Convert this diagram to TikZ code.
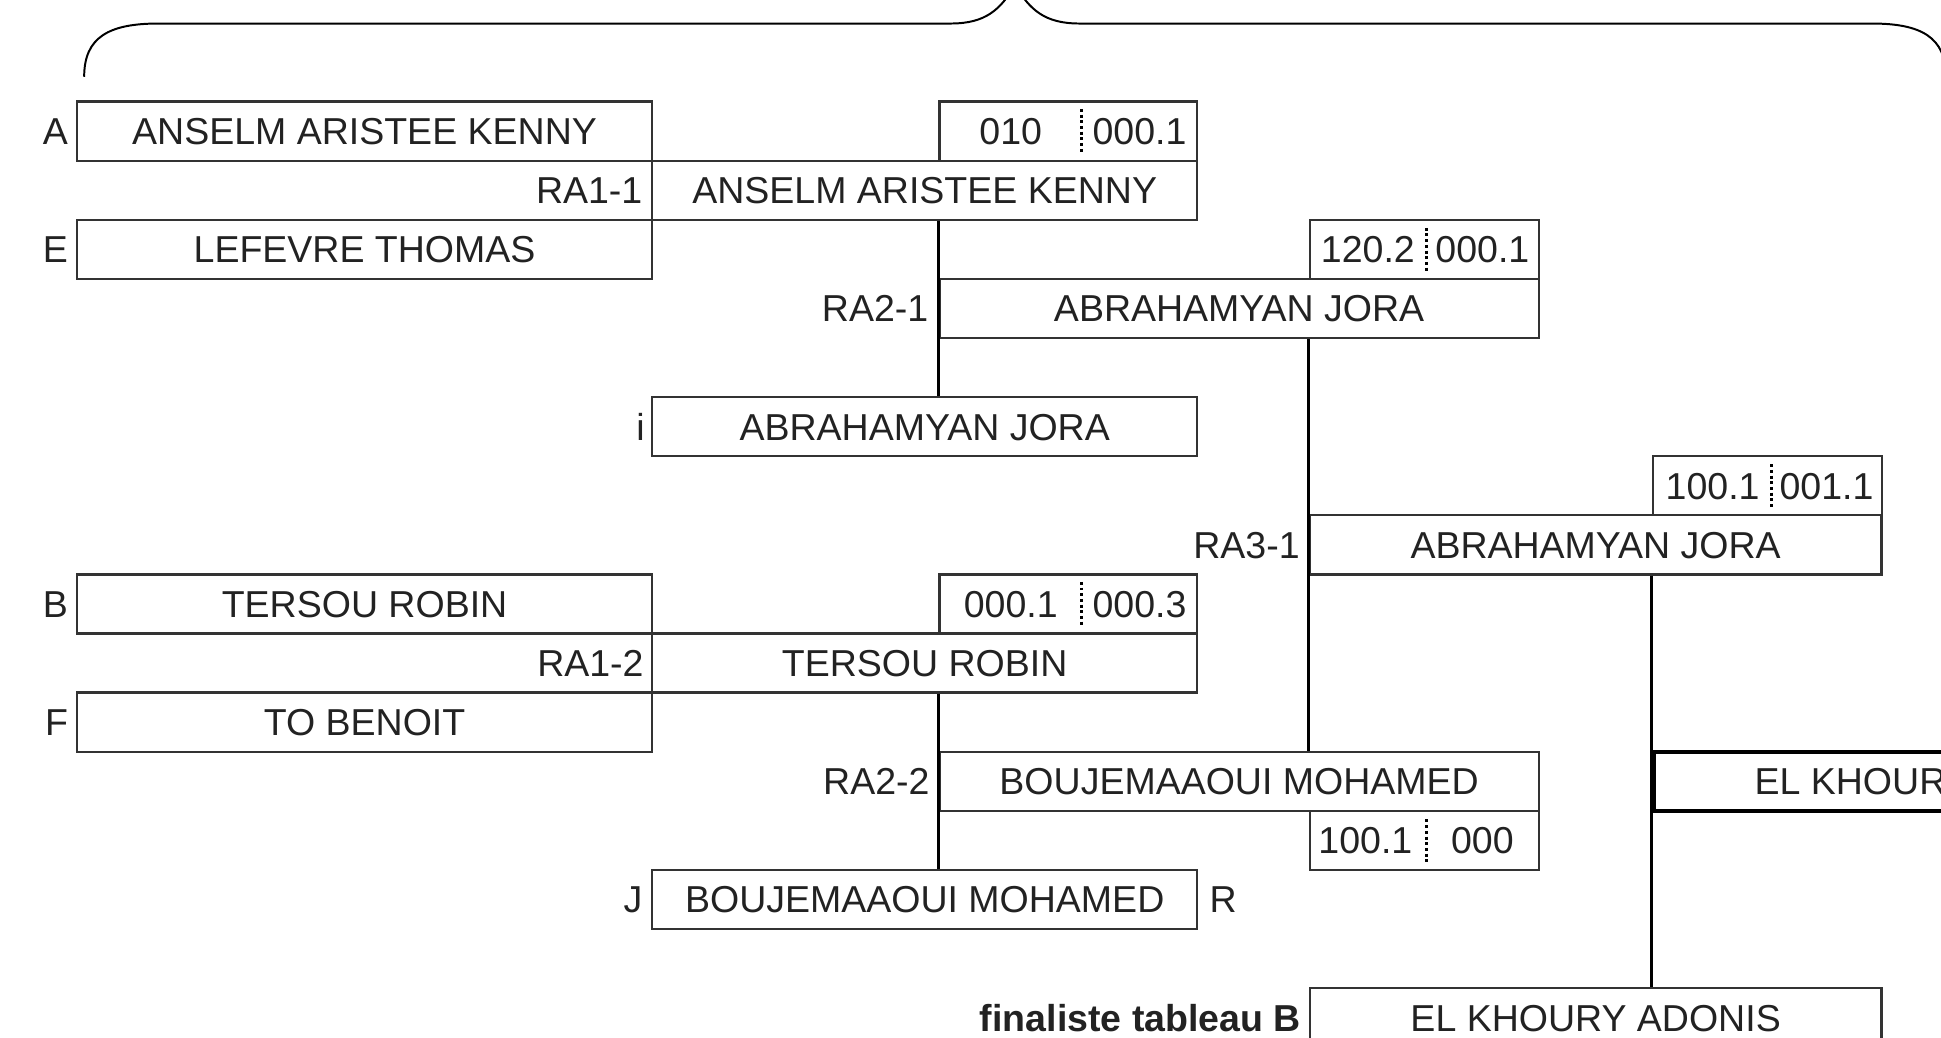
\documentclass[tikz,border=0pt]{standalone}
\usepackage{fontspec}
\setmainfont{Liberation Sans}
\usetikzlibrary{calc}
\definecolor{boxc}{HTML}{333333}
\definecolor{txt}{HTML}{222222}
\begin{document}
\begin{tikzpicture}[x=1pt,y=-1pt,
  every node/.style={font=\fontsize{30.3}{36}\selectfont, text=txt, inner sep=0pt, text height=21.7pt, text depth=0pt},
  pbox/.style={draw=boxc, line width=1.8pt, minimum height=47.75pt},
  wleft/.style={pbox, minimum width=465pt},
  wmid/.style={pbox, minimum width=440pt},
  wr2/.style={pbox, minimum width=484pt},
  wr3/.style={pbox, minimum width=462pt},
  sc1/.style={pbox, minimum width=208pt},
  sc2/.style={pbox, minimum width=185pt},
  lab/.style={anchor=east},
  divider/.style={draw=black, line width=2.4pt, dash pattern=on 2.4pt off 2.2pt},
  conn/.style={draw=black, line width=2.2pt},
  brace/.style={draw=black, line width=1.6pt}]
\useasboundingbox (0,0) rectangle (1568,838);
\clip (0,0) rectangle (1568,838);

% brace
\draw[brace] (68,62) .. controls (68,30) and (88,19) .. (128,19) -- (768,19)
  .. controls (796,19) and (808,8) .. (820,-12)
  .. controls (832,8) and (844,19) .. (872,19) -- (1512,19)
  .. controls (1552,19) and (1572,30) .. (1572,62);

% first round, top half
\node[wleft] (A) at (294.5,105.875) {ANSELM ARISTEE KENNY};
\node[lab] (lA) at ($(A.west)+(-6,0)$) {A};
\node[wmid] (ra11) at (747,153.625) {ANSELM ARISTEE KENNY};
\node[lab] (lra11) at ($(ra11.west)+(-7,0)$) {RA1-1};
\node[wleft] (E) at (294.5,201.375) {LEFEVRE THOMAS};
\node[lab] (lE) at ($(E.west)+(-6,0)$) {E};
\node[sc1] (s1) at (863,105.875) {};
\node (s1a) at (816.5,105.875) {010};
\node (s1b) at (920.5,105.875) {000.1};
\draw[divider] (874,88) -- (874,124);

% second round, top
\node[wr2] (ra21) at (1001,249.125) {ABRAHAMYAN JORA};
\node[lab] (lra21) at ($(ra21.west)+(-8,0)$) {RA2-1};
\node[sc2] (s2) at (1150.5,201.375) {};
\node (s2a) at (1105,201.375) {120.2};
\node (s2b) at (1197.5,201.375) {000.1};
\draw[divider] (1152,184) -- (1152,219);
\node[wmid] (i) at (747,344.625) {ABRAHAMYAN JORA};
\node[lab] (li) at ($(i.west)+(-5,0)$) {i};

% third round
\node[sc2] (s3) at (1428,392.375) {};
\node (s3a) at (1383.5,392.375) {100.1};
\node (s3b) at (1475.5,392.375) {001.1};
\draw[divider] (1431,375) -- (1431,411);
\node[wr3] (ra31) at (1289,440.125) {ABRAHAMYAN JORA};
\node[lab] (lra31) at ($(ra31.west)+(-7,0)$) {RA3-1};

% first round, bottom half
\node[wleft] (B) at (294.5,487.875) {TERSOU ROBIN};
\node[lab] (lB) at ($(B.west)+(-6,0)$) {B};
\node[sc1] (s4) at (863,487.875) {};
\node (s4a) at (816.5,487.875) {000.1};
\node (s4b) at (920.5,487.875) {000.3};
\draw[divider] (874,470) -- (874,506);
\node[wmid] (ra12) at (747,535.625) {TERSOU ROBIN};
\node[lab] (lra12) at ($(ra12.west)+(-6,0)$) {RA1-2};
\node[wleft] (F) at (294.5,583.375) {TO BENOIT};
\node[lab] (lF) at ($(F.west)+(-6,0)$) {F};

% second round, bottom
\node[wr2] (ra22) at (1001,631.125) {BOUJEMAAOUI MOHAMED};
\node[lab] (lra22) at ($(ra22.west)+(-7,0)$) {RA2-2};
\node[sc2] (s5) at (1150.5,678.875) {};
\node (s5a) at (1103,678.875) {100.1};
\node (s5b) at (1197.5,678.875) {000};
\draw[divider] (1152,662) -- (1152,697);
\node[wmid] (J) at (747,726.625) {BOUJEMAAOUI MOHAMED};
\node[lab] (lJ) at ($(J.west)+(-7,0)$) {J};
\node[anchor=west] (lR) at ($(J.east)+(9,0)$) {R};

% right side
\node[pbox, draw=black, line width=3.2pt, minimum width=462pt] (elk) at (1567,631.125) {EL KHOURY ADONIS};
\node[wr3] (fin) at (1289,822.125) {EL KHOURY ADONIS};
\node[lab, font=\fontsize{30.3}{36}\selectfont\bfseries] (lfin) at ($(fin.west)+(-6,0)$) {finaliste tableau B};

% connectors
\draw[conn] (ra21.west |- ra11.south) -- (ra21.west |- i.north);
\draw[conn] (ra22.west |- ra12.south) -- (ra22.west |- J.north);
\draw[conn] (ra31.west |- ra21.south) -- (ra31.west |- ra22.north);
\draw[conn] (elk.west |- ra31.south) -- (elk.west |- fin.north);
\end{tikzpicture}
\end{document}
